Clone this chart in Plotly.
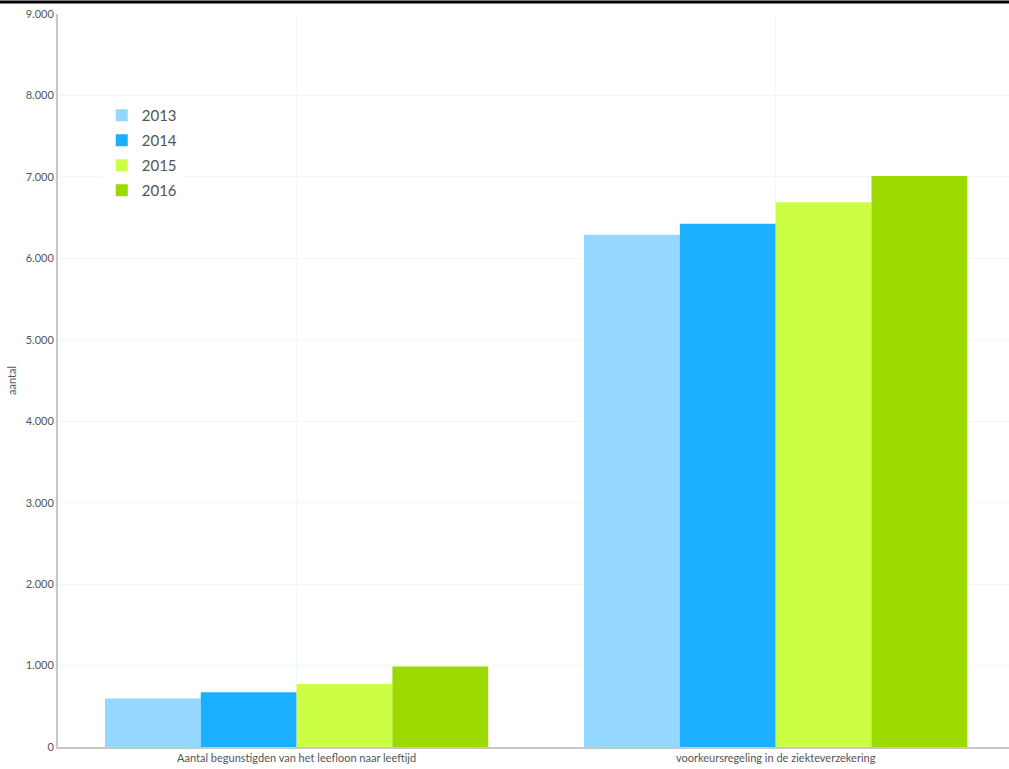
import plotly.graph_objects as go

categories = ["Aantal begunstigden van het leefloon naar leeftijd",
              "voorkeursregeling in de ziekteverzekering"]
years = ["2013", "2014", "2015", "2016"]
values_2013 = [595, 6290]
values_2014 = [672, 6425]
values_2015 = [773, 6690]
values_2016 = [988, 7010]
colors = ["#95d8ff", "#1aafff", "#ccff44", "#9cd900"]

series = [values_2013, values_2014, values_2015, values_2016]

fig = go.Figure()
for name, vals, col in zip(years, series, colors):
    fig.add_trace(go.Bar(x=categories, y=vals, name=name, legendgroup=name,
                         marker=dict(color=col, line=dict(width=0))))

fig.update_layout(
    width=1009, height=769,
    margin=dict(l=58, r=0, t=14, b=22, autoexpand=False),
    paper_bgcolor="white", plot_bgcolor="white",
    bargap=0.2, bargroupgap=0,
    separators=",.",
    font=dict(family="Lato, 'Open Sans', sans-serif", color="#555", size=11),
    legend=dict(x=0.046, y=0.884, xanchor="left", yanchor="top",
                bgcolor="white", font=dict(size=15, color="#555"),
                itemsizing="constant", tracegroupgap=2.5),
    xaxis=dict(range=[-0.498, 1.487], showgrid=True, gridcolor="#f0f8fd",
               showline=True, linecolor="#c8c8c8", linewidth=2,
               ticks="", tickfont=dict(size=11, color="#555")),
    yaxis=dict(range=[0, 9000], dtick=1000, tickformat=",d",
               showgrid=True, gridcolor="#eef7fc",
               showline=True, linecolor="#c8c8c8", linewidth=2,
               zeroline=False, ticks="",
               title=dict(text="aantal", font=dict(size=11, color="#555"), standoff=7),
               tickfont=dict(size=11, color="#555")),
    showlegend=True,
)
fig.add_shape(type="line", xref="paper", yref="paper", x0=-0.07, x1=1.0,
              y0=1.0164, y1=1.0164, line=dict(color="black", width=3))
fig.write_html("out.html", config={"displayModeBar": False},
               post_script="document.body.style.margin='0';document.body.style.overflow='hidden';")
